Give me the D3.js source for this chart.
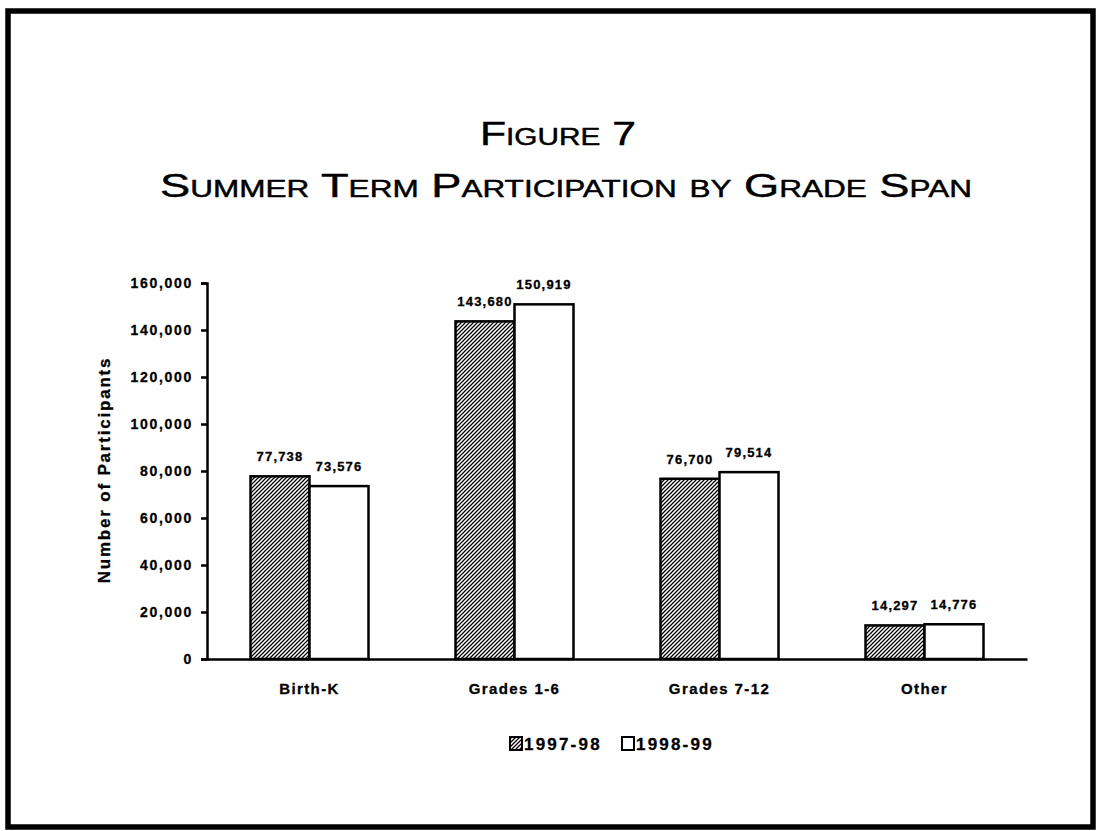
<!DOCTYPE html>
<html>
<head>
<meta charset="utf-8">
<script src="https://cdn.jsdelivr.net/npm/d3@7"></script>
<style>
  body { margin: 0; background: #fff; }
  text { fill: #000; }
</style>
</head>
<body>
<div id="chart"></div>
<script>
// data
var categories = ["Birth-K", "Grades 1-6", "Grades 7-12", "Other"];
var seriesNames = ["1997-98", "1998-99"];
var values9798 = [77738, 143680, 76700, 14297];
var values9899 = [73576, 150919, 79514, 14776];
var yTicks = [0, 20000, 40000, 60000, 80000, 100000, 120000, 140000, 160000];

var W = 1099, H = 831;

var svg = d3.select("#chart").append("svg")
  .attr("width", W)
  .attr("height", H);

// hatch pattern for the first series
var defs = svg.append("defs");
var pat = defs.append("pattern")
  .attr("id", "hatch")
  .attr("patternUnits", "userSpaceOnUse")
  .attr("width", 4).attr("height", 4);
pat.append("rect").attr("width", 4).attr("height", 4).attr("fill", "#fff");
pat.append("path")
  .attr("d", "M-1,1 l2,-2 M0,4 l4,-4 M3,5 l2,-2")
  .attr("stroke", "#000")
  .attr("stroke-width", 1.25);

// outer frame
svg.append("rect")
  .attr("x", 8).attr("y", 11)
  .attr("width", 1085).attr("height", 816)
  .attr("fill", "none")
  .attr("stroke", "#000")
  .attr("stroke-width", 5.5);

// titles
var titleFont = "'Liberation Sans', Arial, sans-serif";
svg.append("text")
  .attr("x", 558).attr("y", 145)
  .attr("text-anchor", "middle")
  .attr("textLength", 156).attr("lengthAdjust", "spacingAndGlyphs")
  .style("font-family", titleFont)
  .style("font-variant", "small-caps")
  .style("font-size", "33px")
  .style("stroke", "#000").style("stroke-width", "0.45px")
  .text("Figure 7");

svg.append("text")
  .attr("x", 566).attr("y", 197)
  .attr("text-anchor", "middle")
  .attr("textLength", 812).attr("lengthAdjust", "spacingAndGlyphs")
  .style("font-family", titleFont)
  .style("font-variant", "small-caps")
  .style("font-size", "33px")
  .style("stroke", "#000").style("stroke-width", "0.45px")
  .text("Summer Term Participation by Grade Span");

// scales
var x = d3.scaleBand().domain(categories).range([207, 1027]).padding(0);
var y = d3.scaleLinear().domain([0, 160000]).range([659, 283]);
var barW = 59;

var plot = svg.append("g");

// y axis
var yAxis = plot.append("g")
  .attr("transform", "translate(207,0)")
  .call(d3.axisLeft(y).tickValues(yTicks).tickFormat(d3.format(",")).tickSize(6).tickPadding(8));
yAxis.select(".domain").attr("stroke", "#000").attr("stroke-width", 2.5);
yAxis.selectAll(".tick line").attr("stroke", "#000").attr("stroke-width", 2.5);
yAxis.selectAll(".tick text")
  .attr("fill", "#000")
  .style("font-family", "'Liberation Sans', Arial, sans-serif")
  .style("font-weight", "bold")
  .style("font-size", "14px")
  .style("letter-spacing", "1.7px")
  .style("stroke", "#000").style("stroke-width", "0.3px");

// bars
function drawSeries(vals, idx) {
  plot.append("g").selectAll("rect")
    .data(vals)
    .join("rect")
    .attr("x", function(d, i) { return x(categories[i]) + x.bandwidth() / 2 - barW + idx * barW; })
    .attr("y", function(d) { return y(d); })
    .attr("width", barW)
    .attr("height", function(d) { return y(0) - y(d); })
    .attr("fill", idx === 0 ? "url(#hatch)" : "#fff")
    .attr("stroke", "#000")
    .attr("stroke-width", 2.5);

  plot.append("g").selectAll("text")
    .data(vals)
    .join("text")
    .attr("x", function(d, i) { return x(categories[i]) + x.bandwidth() / 2 - barW / 2 + idx * barW; })
    .attr("y", function(d) { return y(d) - 15; })
    .attr("text-anchor", "middle")
    .style("font-family", "'Liberation Sans Narrow', 'Arial Narrow', sans-serif")
    .style("font-weight", "bold")
    .style("font-size", "13px")
    .style("letter-spacing", "1.2px")
    .style("stroke", "#000").style("stroke-width", "0.3px")
    .text(d3.format(","));
}
drawSeries(values9798, 0);
drawSeries(values9899, 1);

// x axis
var xAxis = plot.append("g")
  .attr("transform", "translate(0,659)")
  .call(d3.axisBottom(x).tickSize(0).tickPadding(24));
xAxis.select(".domain").attr("stroke", "#000").attr("stroke-width", 2.5);
xAxis.selectAll(".tick text")
  .attr("fill", "#000")
  .style("font-family", "'Liberation Sans', Arial, sans-serif")
  .style("font-weight", "bold")
  .style("font-size", "15px")
  .style("letter-spacing", "1.4px")
  .style("stroke", "#000").style("stroke-width", "0.3px");

// y axis title
svg.append("text")
  .attr("transform", "translate(110,470) rotate(-90)")
  .attr("text-anchor", "middle")
  .style("font-family", "'Liberation Sans', Arial, sans-serif")
  .style("font-weight", "bold")
  .style("font-size", "17px")
  .style("letter-spacing", "1.8px")
  .style("stroke", "#000").style("stroke-width", "0.3px")
  .text("Number of Participants");

// legend
var legend = svg.append("g").attr("transform", "translate(509,736)");
var legX = [0, 112];
seriesNames.forEach(function(name, i) {
  var g = legend.append("g").attr("transform", "translate(" + legX[i] + ",0)");
  g.append("rect")
    .attr("x", 1).attr("y", 1)
    .attr("width", 12).attr("height", 13)
    .attr("fill", i === 0 ? "url(#hatch)" : "#fff")
    .attr("stroke", "#000")
    .attr("stroke-width", 2);
  g.append("text")
    .attr("x", 15).attr("y", 14)
    .style("font-family", "'Liberation Sans', Arial, sans-serif")
    .style("font-weight", "bold")
    .style("font-size", "17px")
    .style("letter-spacing", "2.2px")
    .style("stroke", "#000").style("stroke-width", "0.3px")
    .text(name);
});
</script>
</body>
</html>
